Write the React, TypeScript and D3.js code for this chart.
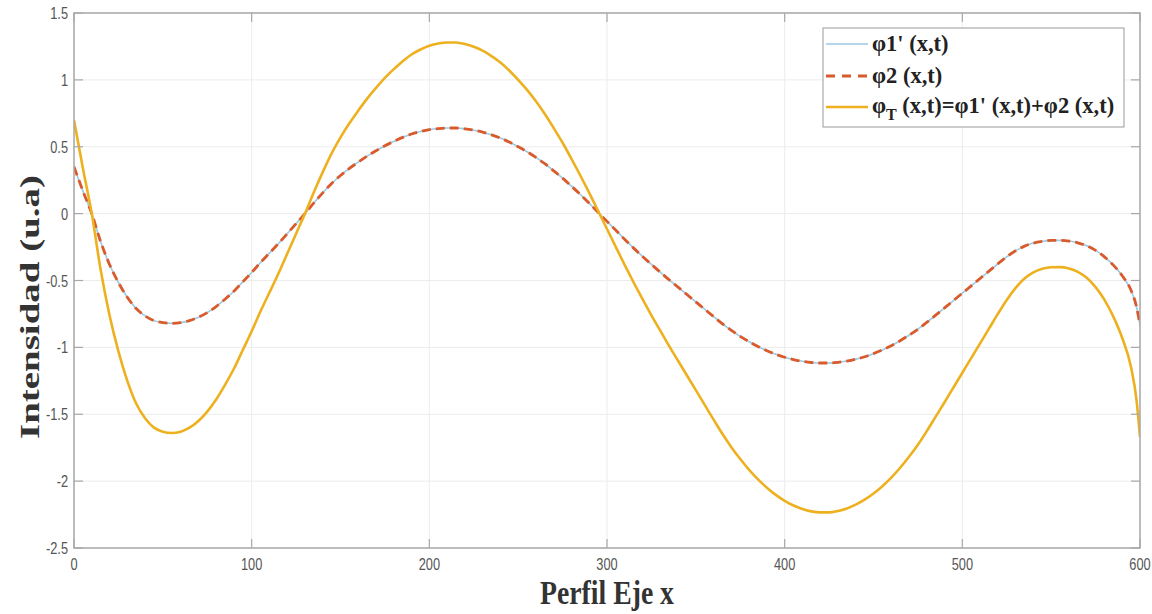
import React from "react";
import * as d3 from "d3";

// x positions along the profile
const xValues = [
  0, 5, 10, 15, 20, 25, 30, 35, 40, 45, 50, 55, 60, 65, 70, 75, 80, 85, 90, 95,
  100, 105, 110, 115, 120, 125, 130, 135, 140, 145, 150, 155, 160, 165, 170, 175,
  180, 185, 190, 195, 200, 205, 210, 215, 220, 225, 230, 235, 240, 245, 250, 255,
  260, 265, 270, 275, 280, 285, 290, 295, 300, 305, 310, 315, 320, 325, 330, 335,
  340, 345, 350, 355, 360, 365, 370, 375, 380, 385, 390, 395, 400, 405, 410, 415,
  420, 425, 430, 435, 440, 445, 450, 455, 460, 465, 470, 475, 480, 485, 490, 495,
  500, 505, 510, 515, 520, 525, 530, 535, 540, 545, 550, 555, 560, 565, 570, 575,
  580, 585, 590, 595, 598, 600,
];

// φ1'(x,t)
const phi1Values = [
  0.35, 0.17, 0.0, -0.21, -0.38, -0.515, -0.625, -0.71, -0.765, -0.8, -0.815, -0.82, -0.815, -0.8, -0.775, -0.74, -0.695, -0.64, -0.58, -0.51,
  -0.44, -0.365, -0.295, -0.225, -0.15, -0.075, 0.0, 0.08, 0.155, 0.225, 0.285, 0.338, 0.385, 0.43, 0.47, 0.508,
  0.54, 0.57, 0.595, 0.614, 0.628, 0.636, 0.64, 0.64, 0.634, 0.624, 0.609, 0.589, 0.565, 0.535, 0.5, 0.463,
  0.42, 0.373, 0.32, 0.265, 0.205, 0.143, 0.078, 0.01, -0.058, -0.125, -0.193, -0.258, -0.32, -0.38, -0.438, -0.495,
  -0.55, -0.605, -0.66, -0.715, -0.77, -0.824, -0.873, -0.918, -0.958, -0.994, -1.025, -1.052, -1.074, -1.091, -1.104, -1.113,
  -1.117, -1.117, -1.112, -1.102, -1.088, -1.07, -1.047, -1.019, -0.987, -0.95, -0.909, -0.864, -0.813, -0.759, -0.705, -0.65,
  -0.595, -0.54, -0.485, -0.43, -0.375, -0.323, -0.278, -0.243, -0.22, -0.207, -0.2, -0.2, -0.205, -0.218, -0.24, -0.275,
  -0.323, -0.385, -0.465, -0.575, -0.695, -0.835,
];

// φ2(x,t)
const phi2Values = [
  0.35, 0.17, 0.0, -0.21, -0.38, -0.515, -0.625, -0.71, -0.765, -0.8, -0.815, -0.82, -0.815, -0.8, -0.775, -0.74, -0.695, -0.64, -0.58, -0.51,
  -0.44, -0.365, -0.295, -0.225, -0.15, -0.075, 0.0, 0.08, 0.155, 0.225, 0.285, 0.338, 0.385, 0.43, 0.47, 0.508,
  0.54, 0.57, 0.595, 0.614, 0.628, 0.636, 0.64, 0.64, 0.634, 0.624, 0.609, 0.589, 0.565, 0.535, 0.5, 0.463,
  0.42, 0.373, 0.32, 0.265, 0.205, 0.143, 0.078, 0.01, -0.058, -0.125, -0.193, -0.258, -0.32, -0.38, -0.438, -0.495,
  -0.55, -0.605, -0.66, -0.715, -0.77, -0.824, -0.873, -0.918, -0.958, -0.994, -1.025, -1.052, -1.074, -1.091, -1.104, -1.113,
  -1.117, -1.117, -1.112, -1.102, -1.088, -1.07, -1.047, -1.019, -0.987, -0.95, -0.909, -0.864, -0.813, -0.759, -0.705, -0.65,
  -0.595, -0.54, -0.485, -0.43, -0.375, -0.323, -0.278, -0.243, -0.22, -0.207, -0.2, -0.2, -0.205, -0.218, -0.24, -0.275,
  -0.323, -0.385, -0.465, -0.575, -0.695, -0.835,
];

// φT(x,t) = φ1'(x,t) + φ2(x,t)
const phiTValues = [
  0.7, 0.34, 0.0, -0.42, -0.76, -1.03, -1.25, -1.42, -1.53, -1.6, -1.63, -1.64, -1.63, -1.6, -1.55, -1.48, -1.39, -1.28, -1.16, -1.02,
  -0.88, -0.73, -0.59, -0.45, -0.3, -0.15, 0.0, 0.16, 0.31, 0.45, 0.57, 0.675, 0.77, 0.86, 0.94, 1.015,
  1.08, 1.14, 1.19, 1.227, 1.255, 1.272, 1.28, 1.279, 1.268, 1.248, 1.218, 1.178, 1.13, 1.07, 1.0, 0.925,
  0.84, 0.745, 0.64, 0.53, 0.41, 0.285, 0.155, 0.02, -0.115, -0.25, -0.385, -0.515, -0.64, -0.76, -0.875, -0.99,
  -1.1, -1.21, -1.32, -1.43, -1.54, -1.648, -1.746, -1.835, -1.916, -1.987, -2.049, -2.103, -2.147, -2.182, -2.208, -2.226,
  -2.234, -2.234, -2.223, -2.204, -2.176, -2.139, -2.093, -2.038, -1.974, -1.9, -1.818, -1.728, -1.626, -1.518, -1.41, -1.3,
  -1.19, -1.08, -0.97, -0.86, -0.75, -0.645, -0.555, -0.485, -0.44, -0.413, -0.401, -0.4, -0.41, -0.435, -0.48, -0.55,
  -0.645, -0.77, -0.93, -1.15, -1.39, -1.67,
];

const xTicks = [0, 100, 200, 300, 400, 500, 600];
const yTicks = [1.5, 1, 0.5, 0, -0.5, -1, -1.5, -2, -2.5];
const yTickLabels = ["1.5", "1", "0.5", "0", "-0.5", "-1", "-1.5", "-2", "-2.5"];

const W = 1152;
const H = 614;
const left = 74;
const right = 1140;
const top = 13;
const bottom = 548;

export default function App() {
  const x = d3.scaleLinear().domain([0, 600]).range([left, right]);
  const y = d3.scaleLinear().domain([-2.5, 1.5]).range([bottom, top]);

  const mk = (vals: number[]) =>
    d3
      .line<number>()
      .x((_, i) => x(xValues[i]))
      .y((d) => y(d))
      .curve(d3.curveMonotoneX)(vals) as string;

  const axisColor = "#a8a8a8";
  const gridColor = "#ececec";
  const labelColor = "#555";
  const tickLen = 9;
  const serif = "'Liberation Serif', 'Times New Roman', serif";
  const sans = "'Liberation Sans', Arial, sans-serif";

  const legendRows = [44, 76, 107];

  return (
    <svg
      width={W}
      height={H}
      style={{ position: "absolute", left: 0, top: 0, display: "block", background: "#fff" }}
    >
      <rect x={0} y={0} width={W} height={H} fill="#fff" />
      <defs>
        <clipPath id="plotClip">
          <rect x={left} y={top - 2} width={right - left} height={bottom - top + 4} />
        </clipPath>
      </defs>

      {/* grid */}
      {xTicks.map((t) => (
        <line key={"gx" + t} x1={x(t)} x2={x(t)} y1={top} y2={bottom} stroke={gridColor} strokeWidth={1} />
      ))}
      {yTicks.map((t) => (
        <line key={"gy" + t} x1={left} x2={right} y1={y(t)} y2={y(t)} stroke={gridColor} strokeWidth={1} />
      ))}

      {/* series */}
      <g clipPath="url(#plotClip)">
        <path d={mk(phi1Values)} fill="none" stroke="#9cc9e3" strokeWidth={1.6} />
        <path d={mk(phi2Values)} fill="none" stroke="#d95a2b" strokeWidth={2.8} strokeDasharray="9,5" />
        <path d={mk(phiTValues)} fill="none" stroke="#EDB120" strokeWidth={2.6} />
      </g>

      {/* box */}
      <rect x={left} y={top} width={right - left} height={bottom - top} fill="none" stroke={axisColor} strokeWidth={1.5} />

      {/* ticks */}
      {xTicks.map((t) => (
        <g key={"tx" + t}>
          <line x1={x(t)} x2={x(t)} y1={bottom} y2={bottom - tickLen} stroke={axisColor} strokeWidth={1.2} />
          <line x1={x(t)} x2={x(t)} y1={top} y2={top + tickLen} stroke={axisColor} strokeWidth={1.2} />
          <text
            transform={`translate(${x(t)},${bottom + 22}) scale(0.8,1)`}
            textAnchor="middle"
            fontFamily={sans}
            fontSize={16}
            fill={labelColor}
          >
            {t}
          </text>
        </g>
      ))}
      {yTicks.map((t, i) => (
        <g key={"ty" + t}>
          <line x1={left} x2={left + tickLen} y1={y(t)} y2={y(t)} stroke={axisColor} strokeWidth={1.2} />
          <line x1={right} x2={right - tickLen} y1={y(t)} y2={y(t)} stroke={axisColor} strokeWidth={1.2} />
          <text
            transform={`translate(${left - 6},${y(t) + 6}) scale(0.8,1)`}
            textAnchor="end"
            fontFamily={sans}
            fontSize={16}
            fill={labelColor}
          >
            {yTickLabels[i]}
          </text>
        </g>
      ))}

      {/* axis labels */}
      <text
        x={(left + right) / 2}
        y={604}
        textAnchor="middle"
        fontFamily={serif}
        fontWeight="bold"
        fontSize={34}
        fill="#333"
        textLength={134}
        lengthAdjust="spacingAndGlyphs"
      >
        Perfil Eje x
      </text>
      <text
        transform={`translate(39,307) rotate(-90)`}
        textAnchor="middle"
        fontFamily={serif}
        fontWeight="bold"
        fontSize={27}
        fill="#333"
        textLength={264}
        lengthAdjust="spacingAndGlyphs"
      >
        Intensidad (u.a)
      </text>

      {/* legend */}
      <rect x={823} y={28} width={301} height={99} fill="#fff" stroke="#9a9a9a" strokeWidth={1} />
      <line x1={826} x2={868} y1={legendRows[0]} y2={legendRows[0]} stroke="#9cc9e3" strokeWidth={1.6} />
      <line x1={826} x2={868} y1={legendRows[1]} y2={legendRows[1]} stroke="#d95a2b" strokeWidth={2.8} strokeDasharray="9,7" />
      <line x1={826} x2={868} y1={legendRows[2]} y2={legendRows[2]} stroke="#EDB120" strokeWidth={2.6} />
      <g fontFamily={serif} fontWeight="bold" fontSize={22.5} fill="#222">
        <text x={872} y={legendRows[0] + 7}>φ1' (x,t)</text>
        <text x={872} y={legendRows[1] + 7}>φ2 (x,t)</text>
        <text x={872} y={legendRows[2] + 6}>
          φ<tspan fontSize={16} dy={7}>T</tspan>
          <tspan dy={-7}> (x,t)=φ1' (x,t)+φ2 (x,t)</tspan>
        </text>
      </g>
    </svg>
  );
}
